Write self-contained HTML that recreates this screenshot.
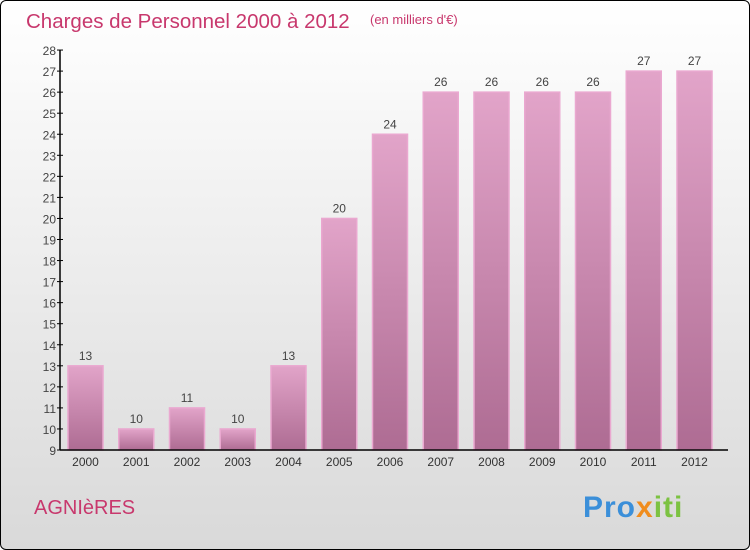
<!DOCTYPE html>
<html><head><meta charset="utf-8"><style>
body{margin:0;width:750px;height:550px;overflow:hidden;font-family:"Liberation Sans",sans-serif}
#wrap{position:absolute;left:0;top:0;width:748px;height:548px;border:1px solid #000;border-radius:6px;background:linear-gradient(#ffffff,#d9d9d9)}
</style></head><body>
<div id="wrap"></div>
<svg id="c" width="750" height="550" style="position:absolute;left:0;top:0">
<defs><linearGradient id="g" x1="0" y1="0" x2="0" y2="1"><stop offset="0" stop-color="#e2a4c9"/><stop offset="1" stop-color="#ae6c93"/></linearGradient></defs>
<text x="26" y="28" font-size="20.5" fill="#c8386d">Charges de Personnel 2000 à 2012</text>
<text x="370" y="24" font-size="13" fill="#c8386d">(en milliers d'€)</text>
<text x="34" y="514" font-size="20" fill="#c8386d">AGNIèRES</text>
<text x="583" y="517" font-size="30" font-weight="bold" letter-spacing="1"><tspan fill="#3b8fd9">Pro</tspan><tspan fill="#f08c1c">x</tspan><tspan fill="#7cc242">iti</tspan></text>
<g id="plot"></g>
</svg>
<script>
const years=["2000","2001","2002","2003","2004","2005","2006","2007","2008","2009","2010","2011","2012"];
const values=[13,10,11,10,13,20,24,26,26,26,26,27,27];
const yTicks=[9,10,11,12,13,14,15,16,17,18,19,20,21,22,23,24,25,26,27,28];
const ns="http://www.w3.org/2000/svg";
const g=document.getElementById('plot');
const y=v=>450-(v-9)*21.05;
const x=i=>68+i*50.75;
function mk(t,a){const e=document.createElementNS(ns,t);for(const k in a)e.setAttribute(k,a[k]);g.appendChild(e);return e;}
years.forEach((yr,i)=>{
 const b=mk('rect',{x:x(i),y:y(values[i]),width:35,height:450-y(values[i]),fill:'url(#g)',stroke:'#eaa8d0','stroke-width':1.5});
 
 
 const l=mk('text',{x:x(i)+17.5,y:y(values[i])-6,'text-anchor':'middle','font-size':12,fill:'#444'});l.textContent=values[i];
 
 
 const xl=mk('text',{x:x(i)+17.5,y:466,'text-anchor':'middle','font-size':12,fill:'#333'});xl.textContent=yr;
 
 
});
yTicks.forEach(t=>{
 const tk=mk('line',{x1:57,x2:63,y1:y(t),y2:y(t),stroke:'#000'});
 
 
 const tl=mk('text',{x:56,y:y(t)+5,'text-anchor':'end','font-size':12,fill:'#444'});tl.textContent=t;
 
 
});
const ya=mk('line',{x1:60,x2:60,y1:y(28),y2:450,stroke:'#000','stroke-width':1.5});


const xa=mk('line',{x1:60,x2:728,y1:450,y2:450,stroke:'#000','stroke-width':1.5});


</script>
</body></html>
